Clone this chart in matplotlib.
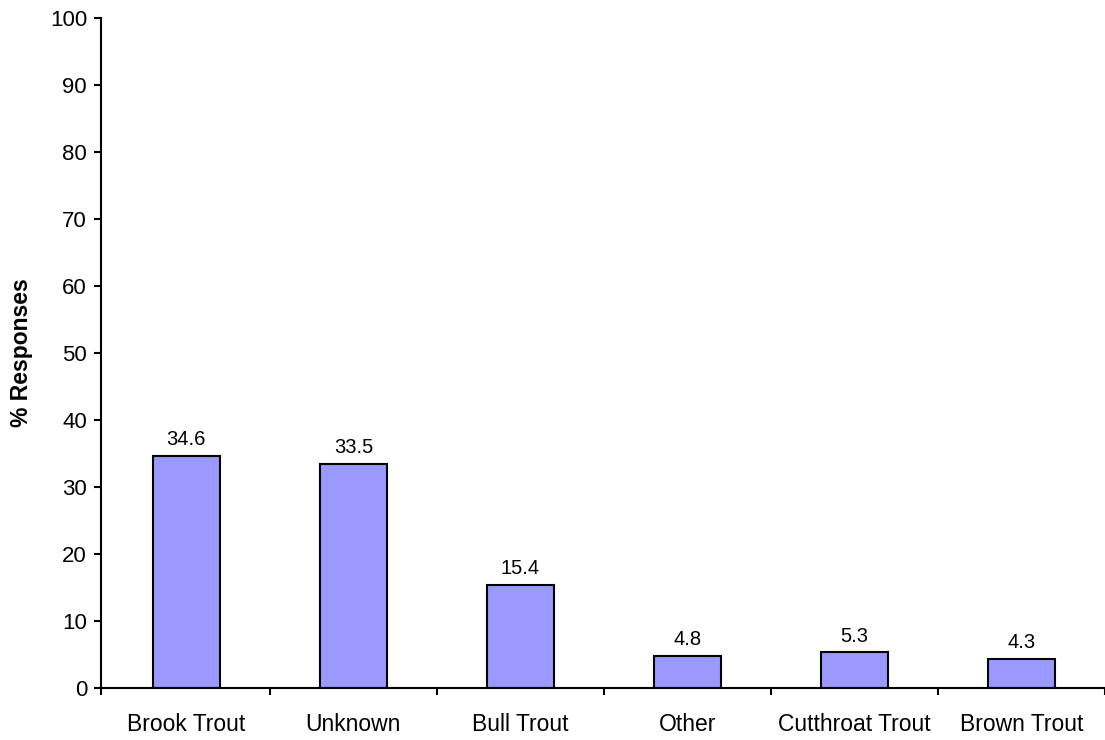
import numpy as np
import matplotlib
matplotlib.use('Agg')
import matplotlib.pyplot as plt

plt.rcParams['font.family'] = ['Liberation Sans', 'DejaVu Sans']

# Data
species = ['Brook Trout', 'Unknown', 'Bull Trout', 'Other', 'Cutthroat Trout', 'Brown Trout']
responses = [34.6, 33.5, 15.4, 4.8, 5.3, 4.3]

fig = plt.figure(figsize=(11.05, 7.4), dpi=100)
ax = fig.add_axes([101 / 1105, 1 - 688 / 740, 1 - 101 / 1105, (688 - 18) / 740])

x = np.arange(len(species))
bars = ax.bar(x, responses, width=0.4, color='#9999FF', edgecolor='black', linewidth=1.5)

for b, v in zip(bars, responses):
    ax.annotate('%.1f' % v, (b.get_x() + b.get_width() / 2, v), xytext=(0, 5),
                textcoords='offset points', ha='center', va='bottom', fontsize=14.5)

left = -0.511
ax.set_xlim(left, 5.458)
ax.set_ylim(0, 100)
ax.set_yticks(np.arange(0, 101, 10))
ax.set_xticks([left] + list(np.arange(0.5, len(species), 1.0)))
ax.set_xticklabels([])
ax.set_xticks(x, minor=True)
ax.set_xticklabels(species, minor=True)
ax.tick_params(axis='x', which='minor', length=0, pad=18, labelsize=16.5)
ax.tick_params(axis='x', which='major', length=5, width=1.5, direction='out')
ax.tick_params(axis='y', length=5, width=1.5, direction='out', labelsize=16, pad=5)

for s in ['top', 'right']:
    ax.spines[s].set_visible(False)
for s in ['left', 'bottom']:
    ax.spines[s].set_linewidth(1.5)

ax.set_ylabel('% Responses', fontsize=16.5, fontweight='bold', labelpad=12)

fig.savefig('out.png', dpi=100)
